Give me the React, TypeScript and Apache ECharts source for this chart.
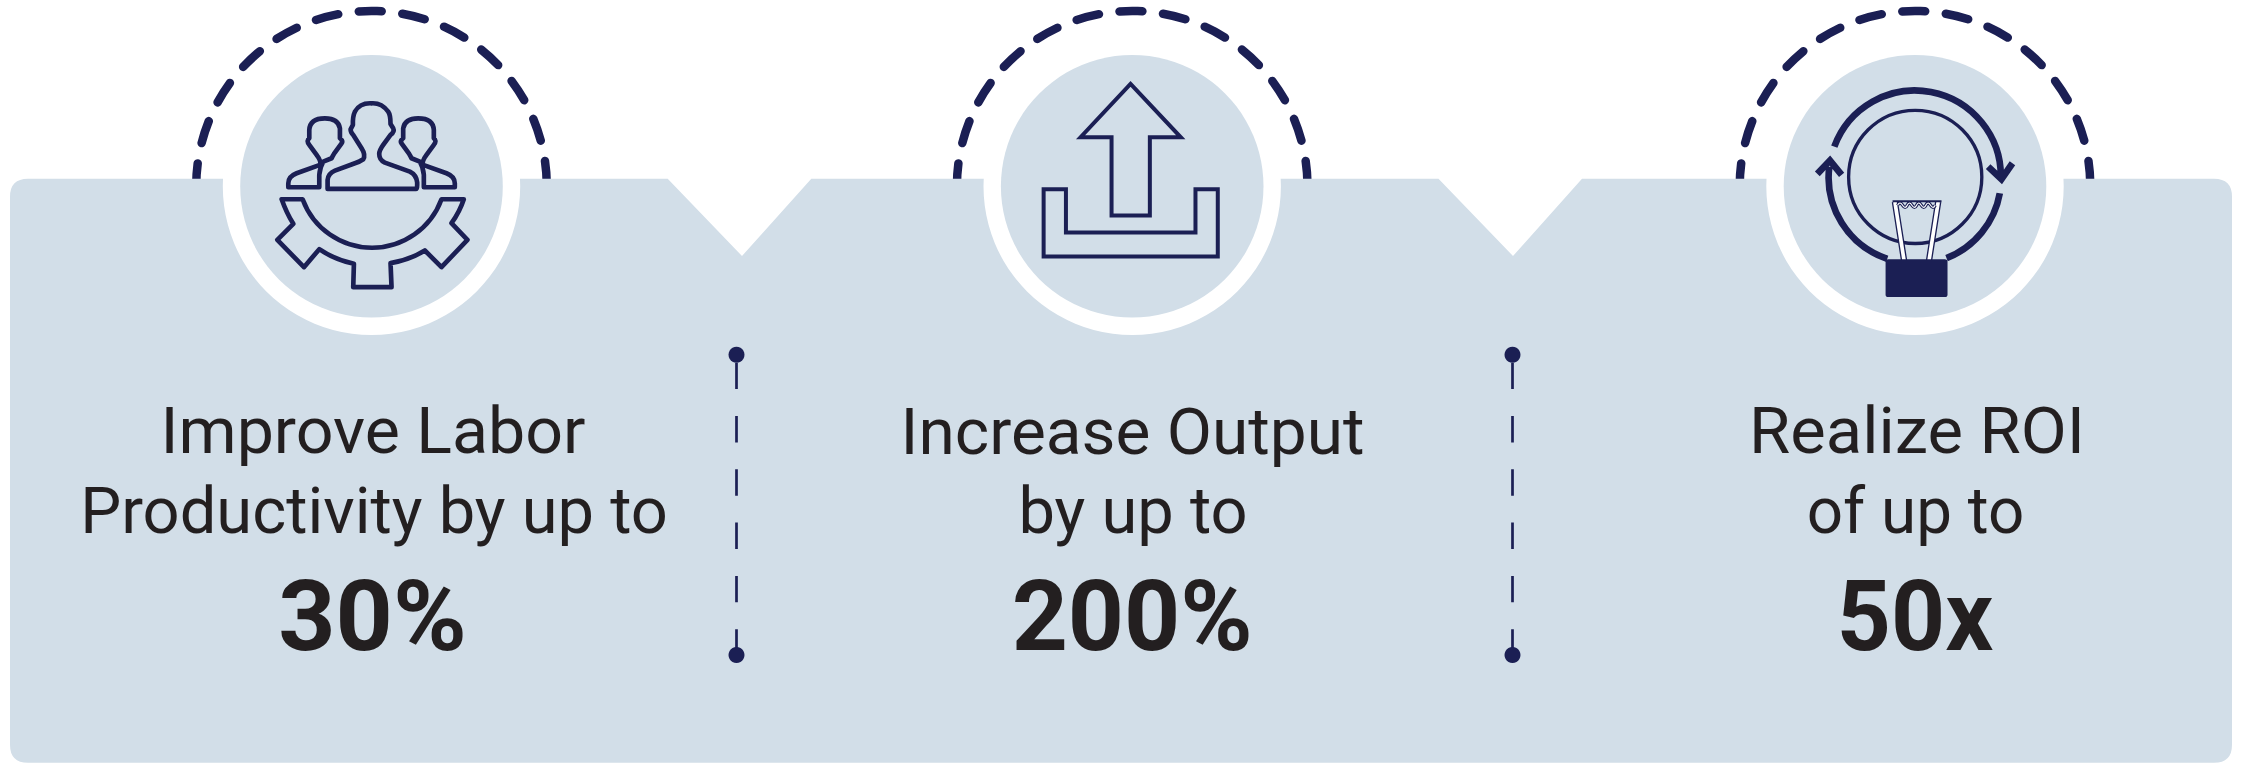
import React, { useEffect, useRef } from "react";
import * as echarts from "echarts";

const titleLines = [
  ["Improve Labor", "Productivity by up to"],
  ["Increase Output", "by up to"],
  ["Realize ROI", "of up to"],
];
const bigValues = ["30%", "200%", "50x"];

const NAVY = "#1b1f54";
const PANEL = "#d2dee8";
const INK = "#231f20";
const FONT = "Roboto";

const centers = [371.5, 1132.2, 1915];
const titleX = [
  [373, 374],
  [1132.5, 1133],
  [1917, 1915.5],
];
const titleStretch = [
  [1.02, 1],
  [1.012, 1],
  [1.03, 0.98],
];
const valueX = [372.5, 1132.2, 1915];
const valueStretch = [1.02, 1, 0.964];
const dividers = [736.5, 1512.5];
const CY = 186.3;

const reg = (name: string, d: string) =>
  echarts.graphic.registerShape(name, echarts.graphic.extendPath(d, {}));

reg(
  "panelShape",
  "M28 178.7 L667.7 178.7 L742 256 L811.3 178.7 L1438.5 178.7 L1513 256 L1582 178.7 L2214 178.7 Q2232 178.7 2232 196.7 L2232 744.7 Q2232 762.7 2214 762.7 L28 762.7 Q10 762.7 10 744.7 L10 196.7 Q10 178.7 28 178.7 Z"
);
reg(
  "people",
  "M203 327 L468 327 Q472 327 472 315 L472 308 Q470 285 450 275 L375 248 Q358 240 358 222 Q358 212 370 195 L392 165 Q405 155 400 145 L392 132 Q392 105 385 95 Q365 68 335 70 Q300 68 285 95 Q278 110 279 135 L272 148 Q272 158 280 165 L305 205 Q318 225 310 238 Q300 245 285 250 L225 272 Q205 280 203 300 Z " +
    "M85 322 L178 322 L178 285 Q180 262 190 245 L215 235 Q218 228 222 222 L245 190 Q250 183 240 175 L240 145 Q235 115 195 115 Q150 115 148 150 L148 175 Q138 182 148 195 L170 225 Q185 245 180 255 L110 280 Q85 290 85 310 Z " +
    "M585 322 L492 322 L492 285 Q490 262 480 245 L455 235 Q452 228 448 222 L425 190 Q420 183 430 175 L430 145 Q435 115 475 115 Q520 115 522 150 L522 175 Q532 182 522 195 L500 225 Q485 245 490 255 L560 280 Q585 290 585 310 Z"
);
reg(
  "gear",
  "M65 358 L128 358 A222 222 0 0 0 545 358 L612 358 Q600 395 575 430 L623 480 L545 562 L495 512 Q450 540 392 550 L395 622 L280 622 L282 552 Q225 540 178 508 L132 562 L52 480 L100 432 Q80 400 65 358 Z"
);
reg(
  "arrowUp",
  "M392 72 L543 232 L450 232 L450 467 L335 467 L335 232 L242 232 Z M131 388 L198 388 L198 518 L587 518 L587 388 L654 388 L654 590 L131 590 Z"
);
reg(
  "cycle",
  "M103 230 A258 258 0 0 1 603 325 M565 290 L605 328 L638 280 M600 370 A258 258 0 0 1 440 565 M262 567 A258 258 0 0 1 88 290 M52 312 L90 272 L125 315"
);
reg("bulb", "M146 321 A200 200 0 1 1 546 321 A200 200 0 1 1 146 321 Z");
reg("stems", "M285 396 L313 575 M415 396 L387 575");
reg("cap", "M278 394 L425 394");
reg(
  "wave",
  "M293 406 Q300 393 308 406 T322 406 T336 406 T350 406 T364 406 T378 406 T392 406 T406 406"
);
reg(
  "socket",
  "M265 568 L435 568 Q443 568 443 576 L443 674 Q443 682 435 682 L265 682 Q257 682 257 674 L257 576 Q257 568 265 568 Z"
);

function scaled(type: string, ox: number, oy: number, style: any) {
  return { type, x: ox, y: oy, scaleX: 1 / 3, scaleY: 1 / 3, style };
}

function stretchedText(text: string, x: number, y: number, stretch: number, font: string) {
  return {
    type: "text",
    x,
    y,
    scaleX: stretch,
    scaleY: 1,
    style: { text, x: 0, y: 0, fill: INK, font, textAlign: "center", textVerticalAlign: "bottom" },
  };
}

function buildGraphic() {
  const els: any[] = [];
  centers.forEach((cx) => {
    els.push({
      type: "arc",
      shape: { cx, cy: CY, r: 175.3, startAngle: Math.PI, endAngle: Math.PI * 2.02, clockwise: true },
      style: { fill: "none", stroke: NAVY, lineWidth: 8.5, lineCap: "round", lineDash: [23, 20.75] },
    });
  });
  els.push({ type: "panelShape", style: { fill: PANEL, stroke: "none" } });
  centers.forEach((cx) => {
    els.push({ type: "circle", shape: { cx, cy: CY, r: 148.7 }, style: { fill: "#fff" } });
    els.push({ type: "circle", shape: { cx, cy: CY, r: 131.3 }, style: { fill: PANEL } });
  });
  const strokeIcon = { fill: "none", stroke: NAVY, lineJoin: "round" };
  els.push(scaled("people", 260, 80, { ...strokeIcon, lineWidth: 14 }));
  els.push(scaled("gear", 260, 80, { ...strokeIcon, lineWidth: 14 }));
  els.push(scaled("arrowUp", 1000, 60, { ...strokeIcon, lineJoin: "miter", lineWidth: 12 }));
  els.push(scaled("bulb", 1800, 70, { ...strokeIcon, lineWidth: 10 }));
  els.push(scaled("cycle", 1800, 70, { ...strokeIcon, lineJoin: "miter", lineWidth: 20 }));
  els.push(scaled("stems", 1800, 70, { ...strokeIcon, lineWidth: 19 }));
  els.push(scaled("stems", 1800, 70, { fill: "none", stroke: "#fff", lineWidth: 11 }));
  els.push(scaled("cap", 1800, 70, { ...strokeIcon, lineWidth: 6 }));
  els.push(scaled("wave", 1800, 70, { ...strokeIcon, lineWidth: 10 }));
  els.push(scaled("wave", 1800, 70, { fill: "none", stroke: "#fff", lineWidth: 3.5 }));
  els.push(scaled("socket", 1800, 70, { fill: NAVY }));

  dividers.forEach((x) => {
    els.push({
      type: "line",
      shape: { x1: x, y1: 362.7, x2: x, y2: 655 },
      style: { stroke: NAVY, lineWidth: 2.7, lineDash: [26.4, 26.9] },
    });
    els.push({ type: "circle", shape: { cx: x, cy: 354.7, r: 8 }, style: { fill: NAVY } });
    els.push({ type: "circle", shape: { cx: x, cy: 655, r: 8 }, style: { fill: NAVY } });
  });

  titleLines.forEach((lines, i) => {
    lines.forEach((t, j) => {
      els.push(
        stretchedText(t, titleX[i][j], (j === 0 ? 452.7 : 532.7) + 11, titleStretch[i][j], `400 65px ${FONT}`)
      );
    });
    els.push(stretchedText(bigValues[i], valueX[i], 650.7 + 15, valueStretch[i], `700 98px ${FONT}`));
  });
  return els;
}

export default function App() {
  const ref = useRef<HTMLDivElement>(null);
  useEffect(() => {
    document.body.style.margin = "0";
    const chart = echarts.init(ref.current!, undefined, { renderer: "svg" });
    chart.setOption({ animation: false, backgroundColor: "#fff", graphic: { elements: buildGraphic() } });
    return () => chart.dispose();
  }, []);
  return <div ref={ref} style={{ width: 2241, height: 773 }} />;
}
